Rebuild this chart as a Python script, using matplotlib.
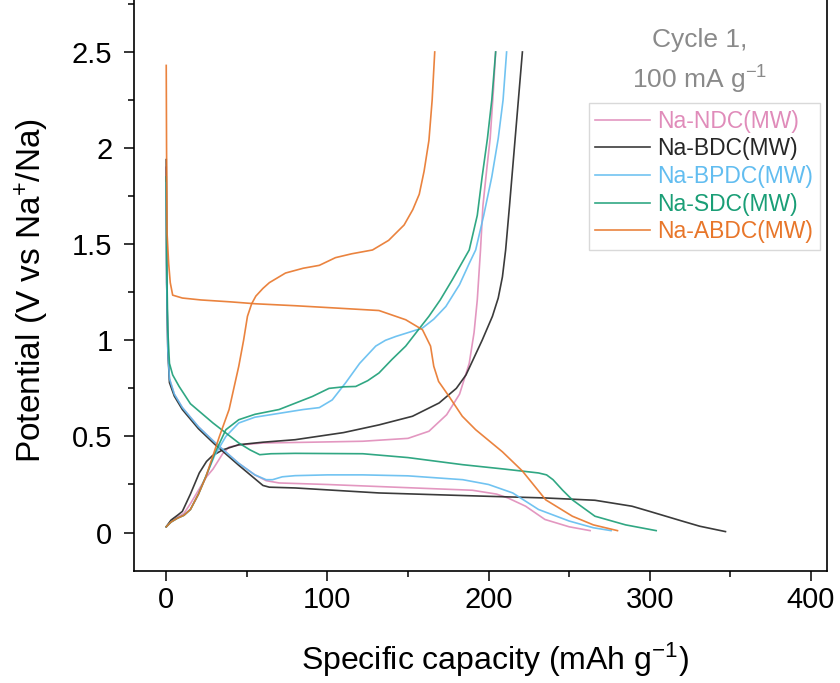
import matplotlib
matplotlib.use("Agg")
import matplotlib.pyplot as plt
from matplotlib.ticker import MultipleLocator

plt.rcParams.update({"font.family": ["Liberation Sans", "DejaVu Sans"],
                     "mathtext.fontset": "custom", "mathtext.rm": "Liberation Sans",
                     "mathtext.it": "Liberation Sans:italic"})

# ---- data (capacity in mAh/g, potential in V) ----
ndc_dis_x = [0, 0.3, 1, 2, 5, 10, 20, 30, 45, 55, 62, 70, 100, 130, 160, 190, 205, 212, 223, 235, 250, 263]
ndc_dis_y = [1.90, 1.3, 0.95, 0.80, 0.72, 0.65, 0.55, 0.47, 0.36, 0.30, 0.27, 0.258, 0.25, 0.24, 0.23, 0.22,
             0.20, 0.18, 0.137, 0.068, 0.03, 0.01]
ndc_ch_x = [0, 3, 7, 11, 15, 20, 25, 29, 35, 39, 45, 60, 90, 122, 150, 163, 174, 182, 188, 191, 193, 195,
            196.5, 199, 201, 203, 204.4]
ndc_ch_y = [0.03, 0.06, 0.08, 0.10, 0.15, 0.22, 0.29, 0.33, 0.41, 0.445, 0.455, 0.466, 0.47, 0.475, 0.49,
            0.527, 0.613, 0.72, 0.88, 1.04, 1.21, 1.47, 1.7, 1.9, 2.05, 2.3, 2.5]

bdc_dis_x = [0, 0.3, 1, 2, 5, 10, 20, 30, 45, 55, 60, 64, 80, 132, 194, 235, 266, 289, 300, 320, 331, 347]
bdc_dis_y = [1.94, 1.3, 0.95, 0.78, 0.71, 0.64, 0.54, 0.46, 0.35, 0.28, 0.245, 0.236, 0.232, 0.206, 0.19,
             0.18, 0.168, 0.137, 0.11, 0.06, 0.033, 0.005]
bdc_ch_x = [0, 3, 7, 10, 15, 20.5, 25, 28.7, 35, 45, 60, 80, 110, 132, 152.8, 169.3, 180, 186, 191, 196,
            202.4, 206, 208.6, 210.6, 213, 215, 217, 219, 221]
bdc_ch_y = [0.03, 0.065, 0.09, 0.11, 0.2, 0.31, 0.37, 0.40, 0.43, 0.457, 0.47, 0.483, 0.52, 0.56, 0.605,
            0.674, 0.75, 0.82, 0.91, 1.0, 1.125, 1.22, 1.33, 1.47, 1.7, 1.9, 2.1, 2.3, 2.5]

bpdc_dis_x = [0, 0.3, 1, 2, 5, 10, 20, 30, 45, 55, 62, 66, 72, 80, 100, 122, 150, 184, 200, 215, 231, 250,
              265, 276]
bpdc_dis_y = [1.82, 1.3, 0.95, 0.80, 0.72, 0.65, 0.55, 0.47, 0.36, 0.30, 0.275, 0.275, 0.29, 0.296, 0.30,
              0.30, 0.295, 0.275, 0.25, 0.206, 0.12, 0.06, 0.025, 0.01]
bpdc_ch_x = [0, 3, 7, 11, 15, 20, 25, 30, 37, 45, 55, 70, 85, 95, 103, 111.4, 120, 130, 136, 142.4, 150,
             159, 166, 173.5, 182, 188, 192, 197, 202, 206, 209, 211.2]
bpdc_ch_y = [0.03, 0.055, 0.075, 0.09, 0.12, 0.2, 0.3, 0.4, 0.5, 0.57, 0.6, 0.62, 0.64, 0.65, 0.69, 0.78,
             0.88, 0.97, 1.0, 1.02, 1.04, 1.064, 1.11, 1.176, 1.29, 1.4, 1.47, 1.65, 1.85, 2.05, 2.25, 2.5]

sdc_dis_x = [0, 0.3, 1, 2, 4, 8, 15, 29, 45, 52, 58, 65, 80, 122, 150, 184, 210, 231, 236, 240, 246, 252,
             266, 285, 304]
sdc_dis_y = [1.85, 1.4, 1.05, 0.88, 0.82, 0.76, 0.67, 0.57, 0.466, 0.43, 0.405, 0.41, 0.412, 0.41, 0.39,
             0.353, 0.33, 0.31, 0.30, 0.275, 0.22, 0.17, 0.085, 0.04, 0.01]
sdc_ch_x = [0, 3, 7, 11, 15, 20, 25, 30, 37, 45, 55, 70, 90.7, 101, 110, 117.6, 125, 132, 140, 148.6, 156,
            163, 170, 177.5, 188, 193, 196, 199.3, 202, 204.4]
sdc_ch_y = [0.03, 0.055, 0.075, 0.09, 0.12, 0.2, 0.3, 0.41, 0.535, 0.587, 0.615, 0.64, 0.708, 0.75, 0.758,
            0.76, 0.79, 0.83, 0.9, 0.97, 1.05, 1.125, 1.21, 1.315, 1.47, 1.65, 1.85, 2.05, 2.25, 2.5]

abdc_dis_x = [0, 0.2, 0.5, 1.5, 2.5, 4, 10, 21.5, 40, 55.6, 80, 101, 132, 148.6, 159, 164, 166, 169, 175.5,
              183.7, 192, 208.6, 221, 235.5, 252, 265, 280]
abdc_dis_y = [2.43, 2.0, 1.56, 1.40, 1.30, 1.235, 1.22, 1.21, 1.20, 1.19, 1.18, 1.17, 1.155, 1.107, 1.055,
              0.97, 0.865, 0.786, 0.708, 0.605, 0.535, 0.42, 0.32, 0.17, 0.085, 0.04, 0.01]
abdc_ch_x = [0, 3, 7, 11, 15, 20, 24.6, 29, 33, 39, 45, 48, 50.4, 53, 55.6, 60, 64, 74, 85, 95, 105, 115,
             128, 138, 147.6, 153, 157, 160, 163, 165, 166.6]
abdc_ch_y = [0.03, 0.055, 0.075, 0.09, 0.12, 0.2, 0.29, 0.4, 0.5, 0.64, 0.865, 1.0, 1.125, 1.19, 1.23, 1.27,
             1.30, 1.35, 1.375, 1.39, 1.43, 1.45, 1.47, 1.52, 1.6, 1.68, 1.76, 1.88, 2.04, 2.25, 2.5]

labels = ["Na-NDC(MW)", "Na-BDC(MW)", "Na-BPDC(MW)", "Na-SDC(MW)", "Na-ABDC(MW)"]
colors = ["#E08CBA", "#262626", "#62BDF0", "#1A9E76", "#E8762A"]
curves = [(ndc_dis_x, ndc_dis_y, ndc_ch_x, ndc_ch_y),
          (bdc_dis_x, bdc_dis_y, bdc_ch_x, bdc_ch_y),
          (bpdc_dis_x, bpdc_dis_y, bpdc_ch_x, bpdc_ch_y),
          (sdc_dis_x, sdc_dis_y, sdc_ch_x, sdc_ch_y),
          (abdc_dis_x, abdc_dis_y, abdc_ch_x, abdc_ch_y)]

fig = plt.figure(figsize=(8.4, 6.83), dpi=100)
ax = fig.add_axes([134/840, 112/683, 693/840, 576.7/683])

for (dx, dy, cx, cy), lab, c in zip(curves, labels, colors):
    ax.plot(dx, dy, color=c, lw=1.2, alpha=0.9, label=lab)
    ax.plot(cx, cy, color=c, lw=1.2, alpha=0.9)

ax.set_xlim(-20, 410)
ax.set_ylim(-0.2, 2.8)
ax.xaxis.set_major_locator(MultipleLocator(100))
ax.xaxis.set_minor_locator(MultipleLocator(50))
ax.yaxis.set_minor_locator(MultipleLocator(0.25))
ax.set_yticks([0, 0.5, 1, 1.5, 2, 2.5])
ax.set_yticklabels(["0", "0.5", "1", "1.5", "2", "2.5"])
ax.tick_params(which="major", direction="out", length=7.5, width=1.1, labelsize=21)
ax.tick_params(axis="y", which="major", pad=8)
ax.tick_params(which="minor", direction="out", length=4.5, width=1.1)
for s in ax.spines.values():
    s.set_linewidth(1.2)

fig.text(495/840, 1 - 660/683, r"Specific capacity (mAh g$^{-1}$)", fontsize=23, ha="center", va="center")
fig.text(32/840, 1 - 290/683, r"Potential (V vs Na$^{+}$/Na)", fontsize=24, ha="center", va="center",
         rotation=90)

fig.text(700/840, 1 - 40/683, "Cycle 1,", fontsize=19, color="#8a8a8a", ha="center", va="center")
fig.text(700/840, 1 - 80/683, r"100 mA g$^{-1}$", fontsize=19, color="#8a8a8a", ha="center", va="center")

leg = ax.legend(loc="upper right", bbox_to_anchor=(820/840, 1 - 103/683),
                bbox_transform=fig.transFigure, fontsize=16.5, labelcolor="linecolor",
                fancybox=False, frameon=True, edgecolor="#d0d0d0", handlelength=2.4,
                handletextpad=0.3, borderpad=0.3, labelspacing=0.2, borderaxespad=0)
for h in leg.get_lines():
    h.set_linewidth(1.2)

fig.savefig("out.png", dpi=100)
